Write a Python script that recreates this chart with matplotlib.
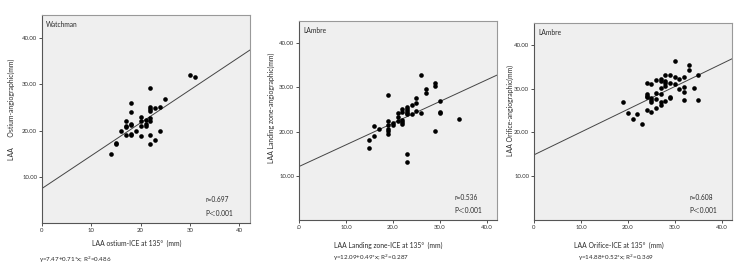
import matplotlib
matplotlib.use("Agg")
import matplotlib.pyplot as plt
import numpy as np

plt.rcParams['font.family'] = ['Lato', 'DejaVu Sans', 'Noto Sans CJK SC']

# Panel 1: Watchman ostium
p1_x = [14, 15, 15, 16, 17, 17, 17, 17, 18, 18, 18, 18, 18, 18, 19, 20, 20, 20, 20,
        21, 21, 21, 22, 22, 22, 22, 22, 22, 22, 22, 23, 23, 24, 24, 25, 30, 31]
p1_y = [15.0, 17.2, 17.0, 20.0, 22.0, 21.0, 20.8, 19.0, 25.9, 24.0, 21.5, 21.1, 19.3, 19.1,
        20.0, 23.0, 22.0, 21.0, 18.9, 22.2, 21.5, 21.0, 25.0, 24.6, 24.3, 22.8, 22.0,
        29.2, 19.0, 17.0, 24.8, 18.0, 25.1, 20.0, 26.9, 32.1, 31.6]

# Panel 2: LAmbre landing zone
p2_x = [15, 15, 16, 16, 17, 19, 19, 19, 19, 19, 19, 20, 20, 21, 21, 21, 22, 22, 22, 22, 22,
        23, 23, 23, 23, 23, 23, 23, 24, 24, 25, 25, 25, 26, 26, 27, 27, 29, 29, 29, 30, 30,
        30, 34]
p2_y = [18.0, 16.2, 21.2, 19.0, 20.6, 28.3, 22.5, 21.4, 20.5, 20.1, 19.5, 22.0, 21.5, 22.4,
        23.2, 24.3, 24.4, 25.2, 22.6, 22.2, 21.8, 25.6, 25.2, 24.7, 24.3, 23.9, 15.0, 13.2,
        25.9, 24.0, 27.5, 26.4, 24.6, 32.9, 24.2, 29.6, 28.7, 31.0, 30.4, 20.2, 27.0, 24.4,
        24.1, 22.9]

# Panel 3: LAmbre orifice
p3_x = [19, 20, 21, 22, 23, 24, 24, 24, 24, 24, 25, 25, 25, 25, 25, 26, 26, 26, 26,
        27, 27, 27, 27, 27, 27, 28, 28, 28, 28, 28, 29, 29, 29, 29, 30, 30, 30, 31, 31,
        32, 32, 32, 32, 33, 33, 34, 35, 35]
p3_y = [27.0, 24.4, 23.0, 24.1, 22.0, 31.3, 28.7, 28.3, 28.0, 25.1, 31.0, 27.8, 27.4, 26.9,
        24.7, 31.9, 29.0, 27.6, 25.5, 32.1, 31.8, 30.1, 28.7, 26.9, 26.3, 33.2, 31.7, 31.2,
        30.7, 27.1, 33.2, 31.2, 28.2, 27.8, 36.3, 32.6, 31.0, 32.3, 29.9, 32.6, 30.4, 29.3,
        27.3, 35.3, 34.3, 30.2, 33.2, 27.3]

intercepts = [7.47, 12.09, 14.88]
slopes = [0.71, 0.49, 0.52]
r_vals = ["r=0.697", "r=0.536", "r=0.608"]
r2_vals = ["0.486", "0.287", "0.369"]
titles = ["Watchman", "LAmbre", "LAmbre"]
ylabels = ["LAA      Ostium-angiographic(mm)", "LAA Landing zone-angiographic(mm)",
           "LAA Orifice-angiographic(mm)"]
xlabels = ["LAA ostium-ICE at 135°  (mm)", "LAA Landing zone-ICE at 135°  (mm)",
           "LAA Orifice-ICE at 135°  (mm)"]
xtick_vals = [0, 10, 20, 30, 40]
xtick_labels = [["0", "10", "20", "30", "40"],
                [".0", "10.0", "20.0", "30.0", "40.0"],
                ["0", "10.0", "20.0", "30.0", "40.0"]]
ytick_vals = [10, 20, 30, 40]
ytick_labels = ["10.00", "20.00", "30.00", "40.00"]

W, H = 756, 275
fig = plt.figure(figsize=(W / 100, H / 100), dpi=100)
renderer = fig.canvas.get_renderer()


def fitted_size(s, target, size0=5.5, rotation=0):
    t = fig.text(0, 0, s, fontsize=size0, rotation=rotation)
    bb = t.get_window_extent(renderer=renderer)
    cur = bb.height if rotation else bb.width
    t.remove()
    return size0 * target / cur


ylab_fs = fitted_size(ylabels[0], 102, rotation=90)
xlab_fs = fitted_size(xlabels[0], 90)
form_fs = fitted_size("y=7.47+0.71*x; R$^2$=0.486", 72)

# pixel boxes: left, right, top, bottom
boxes = [(42, 250, 15, 223), (299, 497, 21, 220), (534, 732, 23, 220)]
ylabel_pos = [(11, 109), (271, 108), (510, 111)]
xlabel_pos = [(137, 243), (388, 245), (619, 245)]
formula_pos = [(39, 260), (333, 258), (578, 258)]

data = [(p1_x, p1_y), (p2_x, p2_y), (p3_x, p3_y)]
tc = '#2a2a2a'

for i, (l, r, t, b) in enumerate(boxes):
    ax = fig.add_axes([l / W, 1 - b / H, (r - l) / W, (b - t) / H])
    ax.set_facecolor('#efefef')
    xs, ys = data[i]
    ax.scatter(xs, ys, s=11, color='black', zorder=3, linewidths=0)
    xl = np.array([0, 42.2])
    ax.plot(xl, intercepts[i] + slopes[i] * xl, color='#444444', lw=0.7, zorder=2)
    ax.set_xlim(0, 42.2)
    ax.set_ylim(0, 45)
    ax.set_xticks(xtick_vals)
    ax.set_xticklabels(xtick_labels[i])
    ax.set_yticks(ytick_vals)
    ax.set_yticklabels(ytick_labels)
    ax.tick_params(labelsize=4.3, length=2, width=0.6, pad=1.5, colors='#333333')
    for s in ['left', 'bottom']:
        ax.spines[s].set_color('#555555')
        ax.spines[s].set_linewidth(0.8)
    for s in ['top', 'right']:
        ax.spines[s].set_color('#999999')
        ax.spines[s].set_linewidth(0.8)
    ax.text(0.02, 0.97, titles[i], transform=ax.transAxes, fontsize=4.8,
            va='top', ha='left', color=tc)
    ax.text(0.785, 0.115, r_vals[i], transform=ax.transAxes, fontsize=4.8,
            va='center', ha='left', color=tc)
    ax.text(0.785, 0.047, "P＜0.001", transform=ax.transAxes, fontsize=4.8,
            va='center', ha='left', color=tc)
    yx, yc = ylabel_pos[i]
    fig.text(yx / W, 1 - yc / H, ylabels[i], rotation=90,
             fontsize=ylab_fs, ha='center', va='center', color=tc)
    xc, xy = xlabel_pos[i]
    fig.text(xc / W, 1 - xy / H, xlabels[i],
             fontsize=xlab_fs, ha='center', va='center', color=tc)
    fx, fy = formula_pos[i]
    fig.text(fx / W, 1 - fy / H,
             "y=%.2f+%.2f*x; R$^2$=%s" % (intercepts[i], slopes[i], r2_vals[i]),
             fontsize=form_fs, ha='left', va='center', color=tc)

fig.savefig("out.png", dpi=100, facecolor='white')
